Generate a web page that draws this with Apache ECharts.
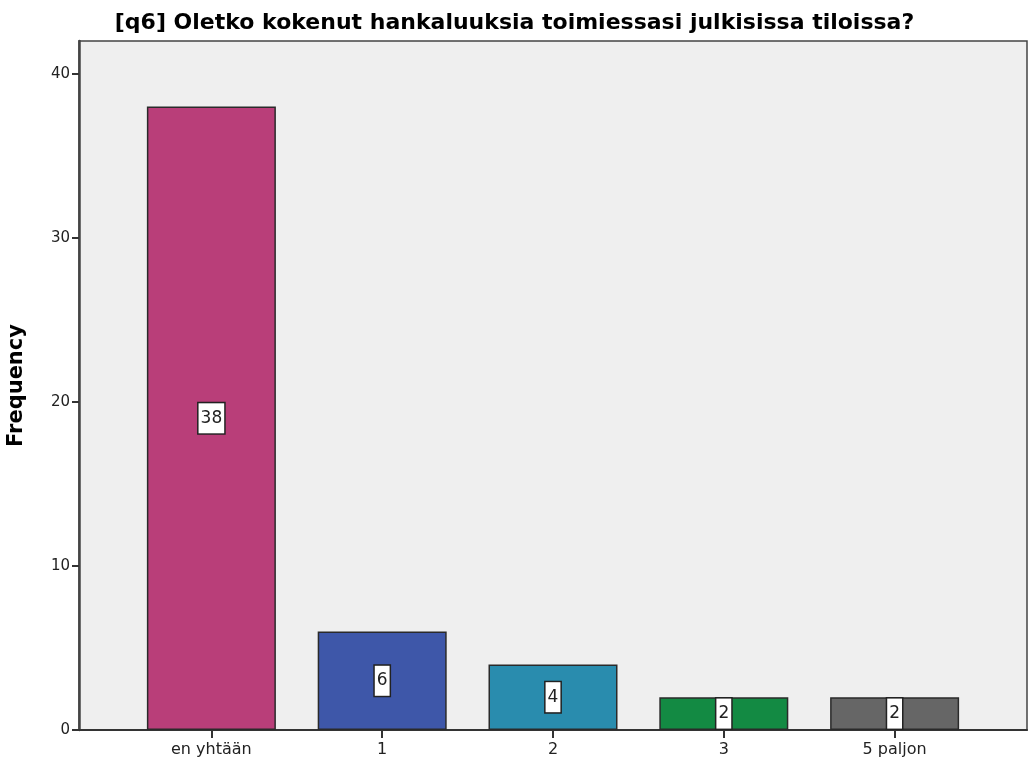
<!DOCTYPE html>
<html>
<head>
<meta charset="utf-8">
<title>q6</title>
<script src="https://cdn.jsdelivr.net/npm/echarts@6/dist/echarts.min.js"></script>
<style>
  html, body { margin: 0; padding: 0; background: #fff; }
  #chart { width: 1029px; height: 766px; }
</style>
</head>
<body>
<div id="chart"></div>
<script>
// data
const categories = ["en yhtään", "1", "2", "3", "5 paljon"];
const frequencies = [38, 6, 4, 2, 2];
const barColors = ["#b93e79", "#3e57a9", "#298cae", "#138a43", "#666666"];
const yTicks = [0, 10, 20, 30, 40];

const chart = echarts.init(document.getElementById("chart"));

const font = "'DejaVu Sans', 'Liberation Sans', Arial, sans-serif";

const option = {
  animation: false,
  title: {
    text: "[q6] Oletko kokenut hankaluuksia toimiessasi julkisissa tiloissa?",
    left: "center",
    top: 7,
    textStyle: { fontFamily: font, fontSize: 22, fontWeight: "bold", color: "#000" },
  },
  grid: {
    left: 79,
    right: 2,
    top: 41,
    bottom: 36,
    outerBoundsMode: "none",
    show: true,
    backgroundColor: "#efefef",
    borderColor: "#444",
    borderWidth: 1.5,
  },
  xAxis: {
    type: "value",
    min: -0.775,
    max: 4.775,
    splitLine: { show: false },
    axisLine: { show: true, onZero: false, lineStyle: { color: "#333", width: 2 } },
    axisTick: {
      show: true,
      length: 8,
      customValues: categories.map((c, i) => i),
      lineStyle: { color: "#333", width: 2 },
    },
    axisLabel: {
      customValues: categories.map((c, i) => i),
      formatter: (v) => categories[Math.round(v)],
      fontFamily: font,
      fontSize: 16,
      color: "#222",
      margin: 12,
    },
  },
  yAxis: {
    type: "value",
    min: 0,
    max: 42,
    name: "Frequency",
    nameLocation: "middle",
    nameGap: 52,
    nameTextStyle: { fontFamily: font, fontSize: 21, fontWeight: "bold", color: "#000" },
    splitLine: { show: false },
    axisLine: { show: true, onZero: false, lineStyle: { color: "#444", width: 2.5 } },
    axisTick: {
      show: true,
      length: 7,
      customValues: yTicks,
      lineStyle: { color: "#333", width: 2 },
    },
    axisLabel: {
      customValues: yTicks,
      fontFamily: font,
      fontSize: 15,
      color: "#222",
      margin: 9,
    },
  },
  series: [
    {
      type: "bar",
      barWidth: 129,
      data: frequencies.map((v, i) => ({
        value: [i, v],
        itemStyle: { color: barColors[i] },
      })),
      itemStyle: { borderColor: "#2a2a2a", borderWidth: 1.5 },
      label: {
        show: true,
        position: "inside",
        formatter: (p) => p.value[1],
        fontFamily: font,
        fontSize: 17,
        lineHeight: 22,
        color: "#222",
        backgroundColor: "#fff",
        borderColor: "#222",
        borderWidth: 1.5,
        padding: [5, 2, 3, 2],
      },
    },
  ],
};

chart.setOption(option);

window.addEventListener("resize", () => {
  chart.resize();
});
</script>
</body>
</html>
